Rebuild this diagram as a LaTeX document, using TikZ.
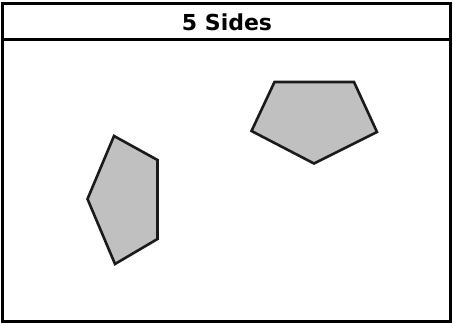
\documentclass[tikz,border=0pt]{standalone}
\usepackage{fontspec}
\setmainfont{DejaVu Sans}
\usetikzlibrary{positioning}
\definecolor{shapeGris}{HTML}{C0C0C0}
\definecolor{lineaNegra}{HTML}{1A1A1A}

\begin{document}
\begin{tikzpicture}[x=1pt, y=-1pt,
      frame/.style={draw=black, line width=3pt},
      pent/.style={draw=lineaNegra, line width=2.6pt, fill=shapeGris, line join=miter},
      every node/.style={align=center}]
    \useasboundingbox (0,0) rectangle (453,324);
    % outer box and title bar
    \draw[frame] (2.5,3) rectangle (450.5,321);
    \draw[frame] (2.5,39.5) -- (450.5,39.5);
    \node[font=\fontsize{22}{26}\selectfont\bfseries] (titulo) at (227,22) {5 Sides};
    % left pentagon
    \draw[pent] (114,136) -- (157.5,160) -- (157.5,239) -- (115,264) -- (87.5,199) -- cycle;
    % right pentagon
    \draw[pent] (274.5,82) -- (354,82) -- (377,132) -- (314,163.5) -- (251.5,131) -- cycle;
  \end{tikzpicture}
\end{document}
